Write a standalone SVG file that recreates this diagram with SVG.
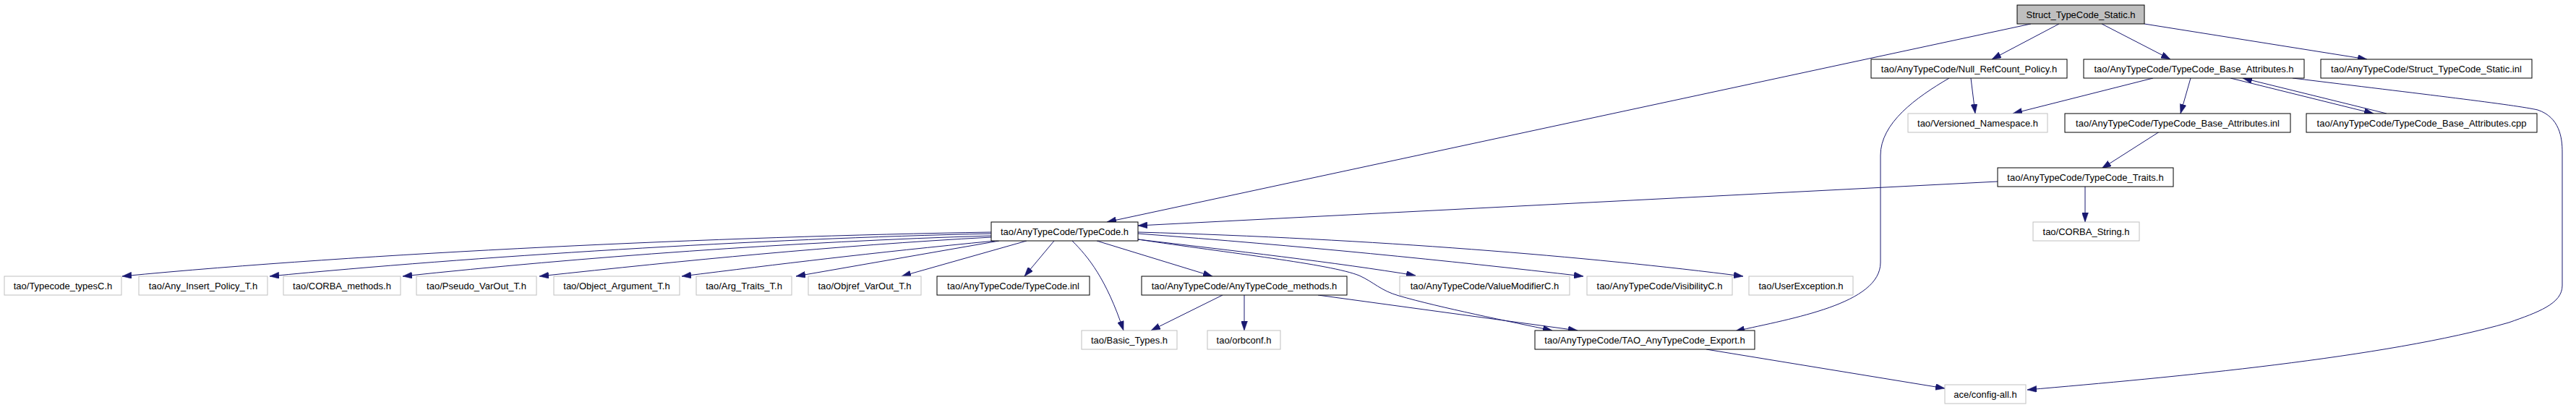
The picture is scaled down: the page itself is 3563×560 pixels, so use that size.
<svg xmlns="http://www.w3.org/2000/svg" width="3563" height="560" viewBox="0 0 3563 560">
<style>
.n rect{fill:#ffffff;stroke:#000000;stroke-width:1}
.u rect{fill:#ffffff;stroke:#bfbfbf;stroke-width:1}
.r rect{fill:#bfbfbf;stroke:#000000;stroke-width:1}
text{font-family:"Liberation Sans",Arial,Helvetica,sans-serif;font-size:13px;fill:#000000;text-anchor:middle}
#edges path{fill:none;stroke:#191970;stroke-width:1;marker-end:url(#arr)}
</style>
<defs>
<marker id="arr" markerWidth="13" markerHeight="9" refX="13" refY="4.5" orient="auto" markerUnits="userSpaceOnUse"><path d="M0,0 L13,4.5 L0,9 z" fill="#191970" stroke="#191970" stroke-width="0.5"/></marker>
</defs>
<rect width="3563" height="560" fill="#ffffff"/>
<g id="edges">
<path d="M2809,33 L1531,307"/>
<path d="M2848,33 L2755,82"/>
<path d="M2907,33 L3002,82"/>
<path d="M2966,33 L3274,82"/>
<path d="M2726,108 L2732,157"/>
<path d="M2696,108 C2650,135 2601,170 2601,215 L2601,363 C2601,420 2480,440 2400,458"/>
<path d="M2978,108 L2784,157"/>
<path d="M3030,108 L3016,157"/>
<path d="M3085,108 L3283,157"/>
<path d="M3301,157 L3102,108"/>
<path d="M3171,108 C3350,130 3480,145 3510,152 C3540,162 3544,190 3544,210 L3544,395 C3544,420 3510,432 3470,446 C3300,495 3000,522 2804,539"/>
<path d="M2987,182 L2907,233"/>
<path d="M2763,251 L1574,312"/>
<path d="M2884,258 L2884,307"/>
<path d="M2360,483 L2690,537"/>
<path d="M1371,321 C1000,327 500,350 169,382"/>
<path d="M1371,323 C1050,330 650,355 373,382"/>
<path d="M1371,326 C1100,334 800,356 557,382"/>
<path d="M1371,328 C1150,340 950,360 746,382"/>
<path d="M1376,333 C1200,350 1080,365 943,382"/>
<path d="M1382,333 L1101,382"/>
<path d="M1420,333 L1247,382"/>
<path d="M1458,333 L1417,382"/>
<path d="M1483,333 C1505,355 1530,385 1554,457"/>
<path d="M1517,333 L1677,382"/>
<path d="M1574,331 C1700,346 1850,363 1958,381"/>
<path d="M1574,323 C1800,340 2000,360 2190,382"/>
<path d="M1574,321 C1900,330 2200,355 2411,382"/>
<path d="M1574,331 C1700,350 1840,365 1880,381 C1900,390 1910,402 1935,409 C1990,425 2090,445 2147,457"/>
<path d="M1691,408 L1592,457"/>
<path d="M1721,408 L1721,457"/>
<path d="M1823,408 L2182,457"/>
</g>
<g id="node-struct-typecode-static-h" class="r"><rect x="2790" y="7" width="176" height="26"/><text x="2878" y="24.5">Struct_TypeCode_Static.h</text></g>
<g id="node-null-refcount-policy" class="n"><rect x="2588" y="82" width="271" height="26"/><text x="2723.5" y="99.5">tao/AnyTypeCode/Null_RefCount_Policy.h</text></g>
<g id="node-typecode-base-attributes-h" class="n"><rect x="2882" y="82" width="305" height="26"/><text x="3034.5" y="99.5">tao/AnyTypeCode/TypeCode_Base_Attributes.h</text></g>
<g id="node-struct-typecode-static-inl" class="n"><rect x="3210" y="82" width="292" height="26"/><text x="3356" y="99.5">tao/AnyTypeCode/Struct_TypeCode_Static.inl</text></g>
<g id="node-versioned-namespace" class="u"><rect x="2639" y="157" width="193" height="26"/><text x="2735.5" y="174.5">tao/Versioned_Namespace.h</text></g>
<g id="node-typecode-base-attributes-inl" class="n"><rect x="2856" y="157" width="312" height="26"/><text x="3012" y="174.5">tao/AnyTypeCode/TypeCode_Base_Attributes.inl</text></g>
<g id="node-typecode-base-attributes-cpp" class="n"><rect x="3190" y="157" width="319" height="26"/><text x="3349.5" y="174.5">tao/AnyTypeCode/TypeCode_Base_Attributes.cpp</text></g>
<g id="node-typecode-traits" class="n"><rect x="2763" y="232" width="243" height="26"/><text x="2884.5" y="249.5">tao/AnyTypeCode/TypeCode_Traits.h</text></g>
<g id="node-typecode-h" class="n"><rect x="1371" y="307" width="203" height="26"/><text x="1472.5" y="324.5">tao/AnyTypeCode/TypeCode.h</text></g>
<g id="node-corba-string" class="u"><rect x="2812" y="307" width="147" height="26"/><text x="2885.5" y="324.5">tao/CORBA_String.h</text></g>
<g id="node-typecode-typesc" class="u"><rect x="6" y="382" width="162" height="26"/><text x="87" y="399.5">tao/Typecode_typesC.h</text></g>
<g id="node-any-insert-policy" class="u"><rect x="192" y="382" width="178" height="26"/><text x="281" y="399.5">tao/Any_Insert_Policy_T.h</text></g>
<g id="node-corba-methods" class="u"><rect x="392" y="382" width="162" height="26"/><text x="473" y="399.5">tao/CORBA_methods.h</text></g>
<g id="node-pseudo-varout" class="u"><rect x="576" y="382" width="166" height="26"/><text x="659" y="399.5">tao/Pseudo_VarOut_T.h</text></g>
<g id="node-object-argument" class="u"><rect x="766" y="382" width="174" height="26"/><text x="853" y="399.5">tao/Object_Argument_T.h</text></g>
<g id="node-arg-traits" class="u"><rect x="963" y="382" width="132" height="26"/><text x="1029" y="399.5">tao/Arg_Traits_T.h</text></g>
<g id="node-objref-varout" class="u"><rect x="1118" y="382" width="156" height="26"/><text x="1196" y="399.5">tao/Objref_VarOut_T.h</text></g>
<g id="node-typecode-inl" class="n"><rect x="1296" y="382" width="211" height="26"/><text x="1401.5" y="399.5">tao/AnyTypeCode/TypeCode.inl</text></g>
<g id="node-anytypecode-methods" class="n"><rect x="1579" y="382" width="284" height="26"/><text x="1721" y="399.5">tao/AnyTypeCode/AnyTypeCode_methods.h</text></g>
<g id="node-valuemodifierc" class="u"><rect x="1936" y="382" width="235" height="26"/><text x="2053.5" y="399.5">tao/AnyTypeCode/ValueModifierC.h</text></g>
<g id="node-visibilityc" class="u"><rect x="2195" y="382" width="201" height="26"/><text x="2295.5" y="399.5">tao/AnyTypeCode/VisibilityC.h</text></g>
<g id="node-userexception" class="u"><rect x="2419" y="382" width="144" height="26"/><text x="2491" y="399.5">tao/UserException.h</text></g>
<g id="node-basic-types" class="u"><rect x="1496" y="457" width="132" height="26"/><text x="1562" y="474.5">tao/Basic_Types.h</text></g>
<g id="node-orbconf" class="u"><rect x="1670" y="457" width="101" height="26"/><text x="1720.5" y="474.5">tao/orbconf.h</text></g>
<g id="node-tao-anytypecode-export" class="n"><rect x="2123" y="457" width="304" height="26"/><text x="2275" y="474.5">tao/AnyTypeCode/TAO_AnyTypeCode_Export.h</text></g>
<g id="node-config-all" class="u"><rect x="2690" y="532" width="112" height="26"/><text x="2746" y="549.5">ace/config-all.h</text></g>
</svg>
